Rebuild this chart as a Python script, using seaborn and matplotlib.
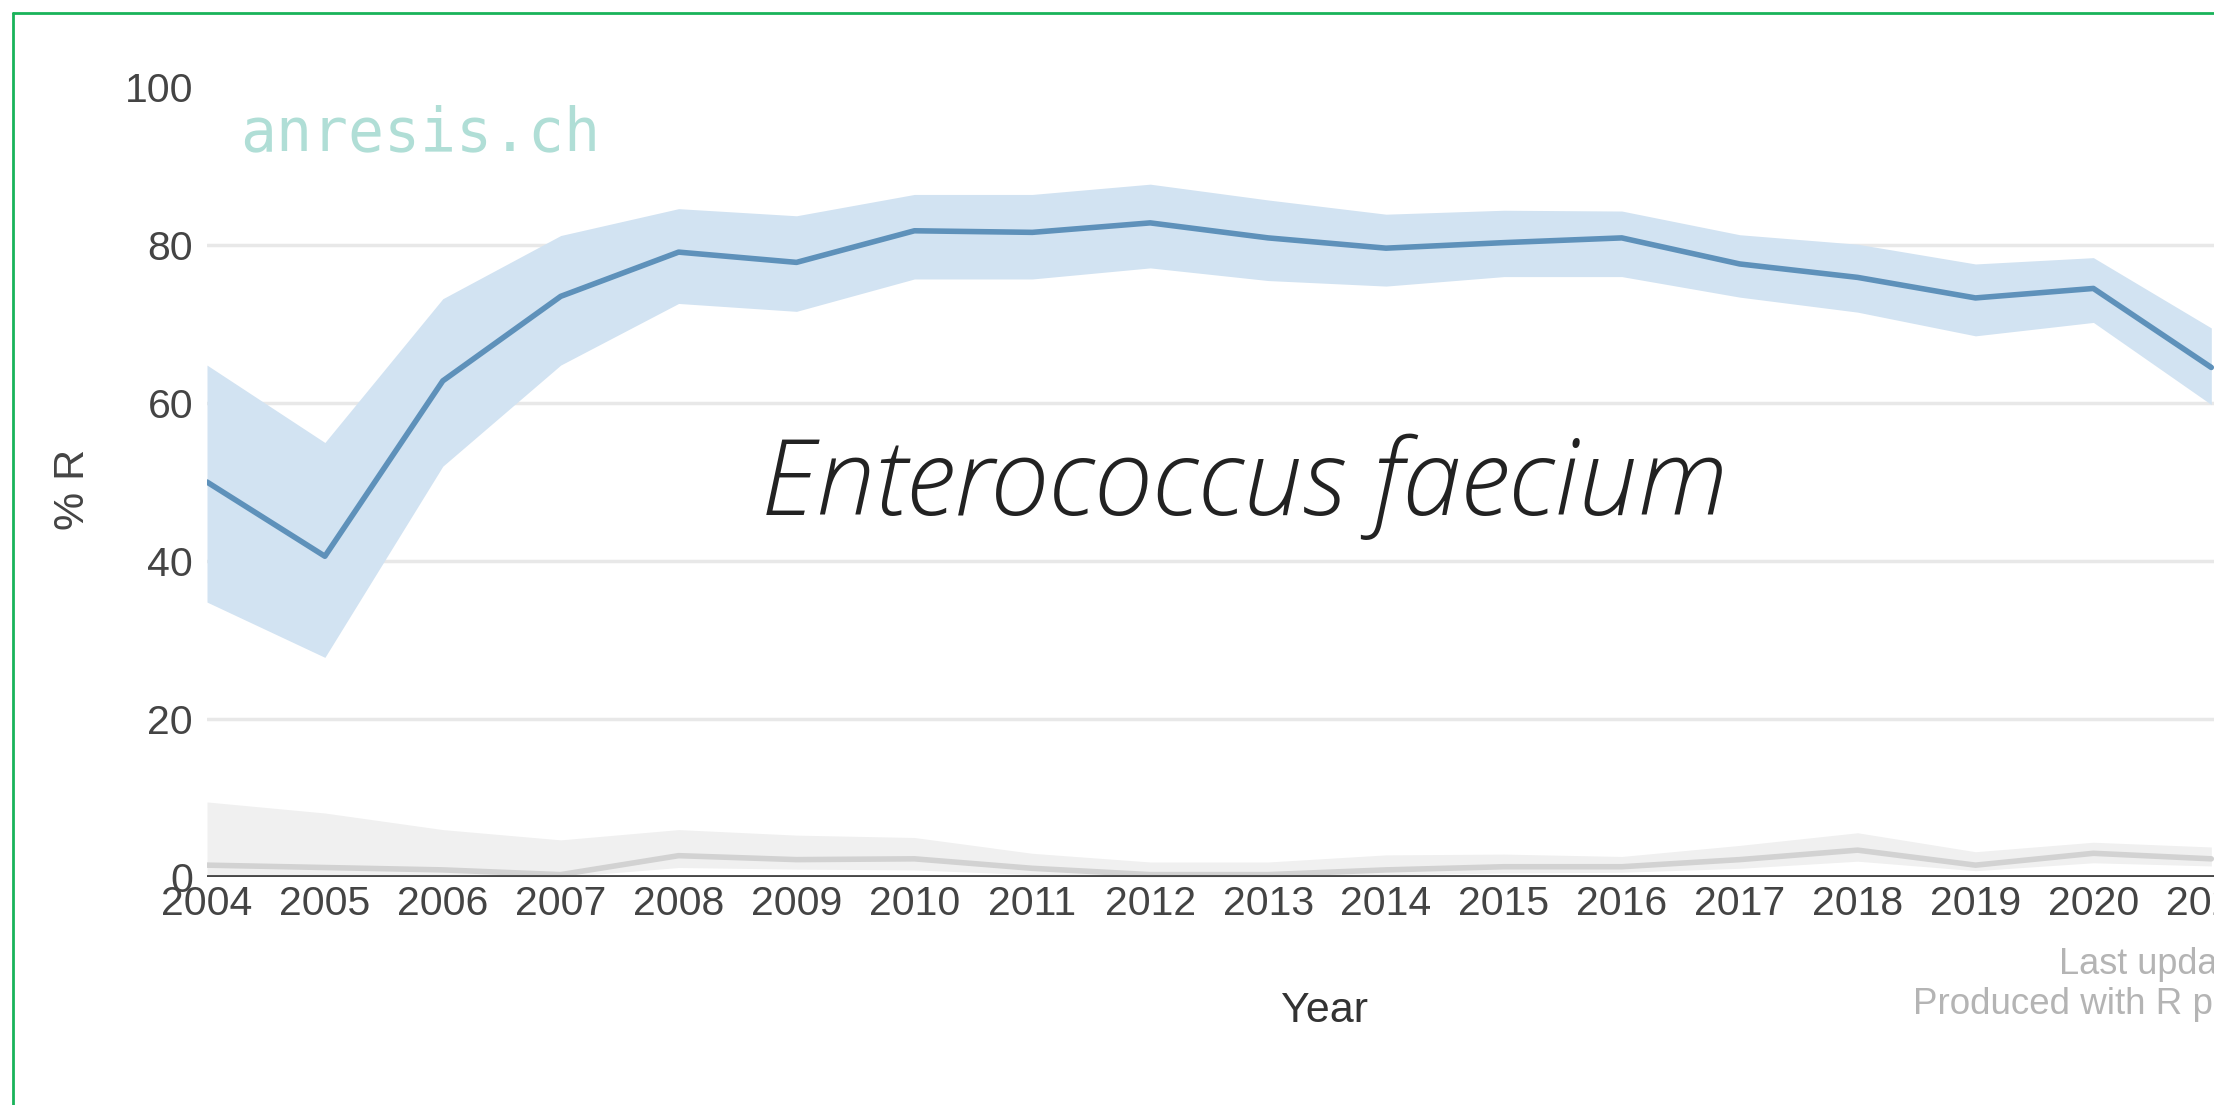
import matplotlib
matplotlib.use("Agg")
import matplotlib.pyplot as plt
from matplotlib.lines import Line2D
import numpy as np
import pandas as pd
import seaborn as sns

# Resistance of Enterococcus faecium, yearly share resistant (%) with confidence band
years = [2004, 2005, 2006, 2007, 2008, 2009, 2010, 2011, 2012,
         2013, 2014, 2015, 2016, 2017, 2018, 2019, 2020, 2021]

main_pct = [50.0, 40.6, 62.8, 73.5, 79.1, 77.8, 81.8, 81.6, 82.8,
            80.9, 79.6, 80.3, 80.9, 77.6, 75.9, 73.3, 74.5, 64.5]
main_hi = [64.8, 55.0, 73.2, 81.2, 84.6, 83.7, 86.4, 86.4, 87.7,
           85.7, 83.9, 84.4, 84.3, 81.3, 80.1, 77.6, 78.4, 69.5]
main_lo = [34.8, 27.8, 52.0, 64.8, 72.6, 71.6, 75.7, 75.7, 77.1,
           75.5, 74.8, 76.0, 76.0, 73.4, 71.5, 68.5, 70.2, 59.8]

second_pct = [1.5, 1.2, 0.9, 0.3, 2.7, 2.2, 2.3, 1.1, 0.3,
              0.3, 0.9, 1.3, 1.3, 2.2, 3.4, 1.5, 3.0, 2.3]
second_hi = [9.5, 8.1, 6.0, 4.7, 6.0, 5.3, 5.0, 3.0, 1.9,
             1.9, 2.8, 2.9, 2.6, 4.0, 5.6, 3.2, 4.4, 3.8]
second_lo = [0.2, 0.1, 0.1, 0.0, 1.2, 1.0, 0.9, 0.3, 0.0,
             0.0, 0.3, 0.5, 0.6, 1.1, 2.0, 0.8, 1.8, 1.4]

y_ticks = [0, 20, 40, 60, 80, 100]
x_ticks = list(range(2004, 2024))

df = pd.DataFrame({
    "Year": years * 2,
    "pct": main_pct + second_pct,
    "series": ["main"] * len(years) + ["second"] * len(years),
})

sns.set_theme(style="white")
plt.rcParams["font.family"] = ["Liberation Sans", "DejaVu Sans"]

W, H = 2214, 1105
fig = plt.figure(figsize=(W / 100, H / 100), dpi=100)
fig.patch.set_facecolor("white")

# axes in pixel geometry: 2004 at x=207, one year = 117.9 px, y 0..100 from 877 to 87
x0_px, year_px = 207, 117.9
y0_px, y100_px = 877, 87
xlim = (2004, 2023)
ax_w = (xlim[1] - xlim[0]) * year_px
ax = fig.add_axes([x0_px / W, 1 - y0_px / H, ax_w / W, (y0_px - y100_px) / H])
ax.set_facecolor("white")
ax.set_xlim(*xlim)
ax.set_ylim(0, 100)

# light horizontal grid
for v in y_ticks[1:-1]:
    ax.axhline(v, color="#e8e8e8", lw=2.5, zorder=0)

blue_line, blue_band = "#5e91ba", "#d2e3f2"
grey_line, grey_band = "#d2d2d2", "#f0f0f0"

ax.fill_between(years, second_lo, second_hi, color=grey_band, lw=0, zorder=1)
ax.fill_between(years, main_lo, main_hi, color=blue_band, lw=0, zorder=1)

sns.lineplot(data=df, x="Year", y="pct", hue="series",
             palette={"main": blue_line, "second": grey_line},
             linewidth=4, legend=False, ax=ax, zorder=3)

ax.axhline(0, color="#474747", lw=3.5, zorder=4)

for s in ax.spines.values():
    s.set_visible(False)

ax.set_xticks(x_ticks)
ax.set_xticklabels([str(y) for y in x_ticks])
ax.set_yticks(y_ticks)
ax.set_yticklabels([str(v) for v in y_ticks])
ax.tick_params(axis="both", length=0, labelsize=29.5, labelcolor="#444444")
ax.tick_params(axis="x", pad=6)
ax.tick_params(axis="y", pad=10)

ax.set_xlabel("Year", fontsize=31, color="#333333")
ax.set_ylabel("% R", fontsize=31, color="#444444")
ax.xaxis.set_label_coords(0.499, -0.17)
ax.xaxis.label.set_va("center")
ax.yaxis.set_label_coords(-0.06, 0.49)
ax.yaxis.label.set_va("center")

# site watermark
fig.text(240 / W, 1 - 150 / H, "anresis.ch", family="DejaVu Sans Mono",
         fontsize=43, color="#b0ded6", ha="left", va="baseline")

# organism name
fig.text(1245 / W, 1 - 515 / H, "Enterococcus faecium", family="Open Sans",
         fontweight="light", style="italic", fontsize=76, color="#222222",
         ha="center", va="baseline")

# footer notes
fig.text(2059 / W, 1 - 964 / H, "Last update", fontsize=26, color="#b4b4b4",
         ha="left", va="center")
fig.text(1913 / W, 1 - 1004 / H, "Produced with R plotly", fontsize=26.5,
         color="#b4b4b4", ha="left", va="center")

# green frame
frame = "#19b35a"
fig.add_artist(Line2D([13 / W, 13 / W], [0, 1 - 13 / H], color=frame, lw=2,
                      transform=fig.transFigure))
fig.add_artist(Line2D([13 / W, 1], [1 - 13 / H, 1 - 13 / H], color=frame, lw=2,
                      transform=fig.transFigure))

fig.savefig("out.png", dpi=100, facecolor="white")
